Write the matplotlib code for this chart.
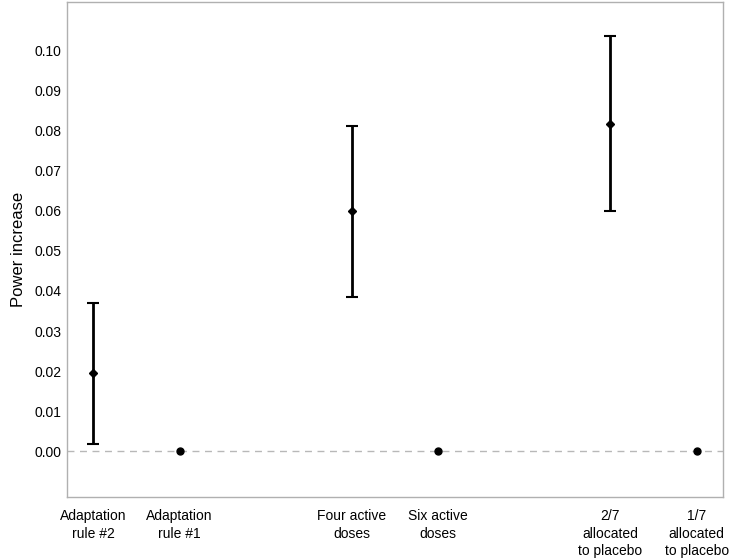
import matplotlib.pyplot as plt
import numpy as np

plt.rcParams['font.family'] = ['Liberation Sans', 'DejaVu Sans']

# Categories and their positions (grouped in pairs)
labels = ["Adaptation\nrule #2", "Adaptation\nrule #1",
          "Four active\ndoses", "Six active\ndoses",
          "2/7\nallocated\nto placebo", "1/7\nallocated\nto placebo"]
xpos = [1, 2, 4, 5, 7, 8]

# Power increase estimates and interval bounds
est = [0.0195, 0.0, 0.0599, 0.0, 0.0816, 0.0]
lower = [0.0019, 0.0, 0.0386, 0.0, 0.0600, 0.0]
upper = [0.0371, 0.0, 0.0811, 0.0, 0.1036, 0.0]

yticks = [0.00, 0.01, 0.02, 0.03, 0.04, 0.05, 0.06, 0.07, 0.08, 0.09, 0.10]

fig = plt.figure(figsize=(7.33, 5.6), dpi=100)
ax = fig.add_axes([0.091, 0.113, 0.8958, 0.8833])

ax.axhline(0, color='#b8b8b8', lw=1, ls=(0, (5, 4)), zorder=1)

est = np.array(est)
has_ci = np.array(upper) > np.array(lower)
for x, e, lo, hi, ci in zip(xpos, est, lower, upper, has_ci):
    if ci:
        ax.errorbar(x, e, yerr=[[e - lo], [hi - e]], fmt='D', color='black',
                    ms=4.5, lw=2, capsize=4, capthick=1.5, zorder=3)
    else:
        ax.plot(x, e, 'o', color='black', ms=5, zorder=3)

ax.set_xlim(0.69, 8.31)
ax.set_ylim(-0.0113, 0.112)
ax.set_yticks(yticks)
ax.set_yticklabels([f"{v:.2f}" for v in yticks], fontsize=10)
ax.set_xticks(xpos)
ax.set_xticklabels(labels, fontsize=10, linespacing=1.3)
ax.tick_params(length=0)
ax.tick_params(axis='x', pad=9)
ax.tick_params(axis='y', pad=4)
ax.set_ylabel("Power increase", fontsize=12, labelpad=6)

for s in ax.spines.values():
    s.set_color('#b0b0b0')
    s.set_linewidth(1)

fig.savefig("out.png", dpi=100)
